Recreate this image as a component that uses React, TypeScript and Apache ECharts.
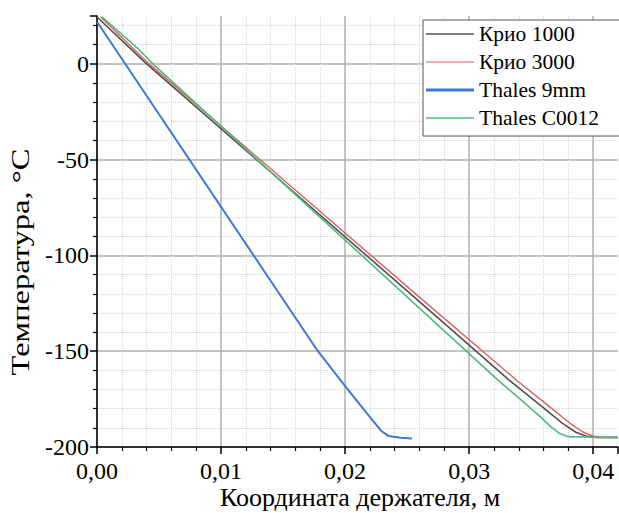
import React, { useEffect, useRef } from 'react';
import * as echarts from 'echarts';

const seriesNames = ['Крио 1000', 'Крио 3000', 'Thales 9mm', 'Thales C0012'];

const krio1000: [number, number][] = [
  [0.0, 24.5], [0.004, 0], [0.025, -118.5], [0.0332, -165], [0.0356, -177.5],
  [0.0375, -187.5], [0.0386, -192.3], [0.0394, -194.3], [0.0402, -195], [0.042, -195],
];
const krio3000: [number, number][] = [
  [0.0003, 24.5], [0.0042, 0], [0.0254, -118.5], [0.0338, -165], [0.0362, -177.5],
  [0.0381, -187.5], [0.0392, -192.3], [0.0400, -194.3], [0.0408, -195], [0.042, -195],
];
const thales9mm: [number, number][] = [
  [0.0, 22], [0.0177, -149], [0.0201, -169], [0.0222, -186], [0.0229, -191.5],
  [0.0235, -194.3], [0.0245, -195.2], [0.0254, -195.5],
];
const thalesC0012: [number, number][] = [
  [0.0004, 24.5], [0.0033, 8], [0.0045, 0], [0.0323, -165], [0.0343, -176],
  [0.0357, -184], [0.0366, -189.5], [0.0373, -193], [0.0380, -194.6], [0.042, -195.2],
];

const seriesData = [krio1000, krio3000, thales9mm, thalesC0012];
const seriesColors = ['#505050', '#e35d5d', '#3d78d6', '#4cbb7c'];
const seriesWidths = [1.6, 1.4, 2, 1.6];
const legendWidths = [1.5, 1.2, 3, 1.5];

const xAxisTitle = 'Координата держателя, м';
const yAxisTitle = 'Температура, °C';

const FONT = 'Liberation Serif';

export default function App() {
  const ref = useRef<HTMLDivElement>(null);
  useEffect(() => {
    if (!ref.current) return;
    const chart = echarts.init(ref.current, null, { renderer: 'svg' });
    const axisCommon = {
      axisLine: { show: true, onZero: false, lineStyle: { color: '#000', width: 1.5 } },
      axisTick: { show: true, length: 7, lineStyle: { color: '#000', width: 1.5 } },
      minorTick: { show: true, splitNumber: 5, length: 4, lineStyle: { color: '#000', width: 1.2 } },
      splitLine: { show: true, showMaxLine: false, lineStyle: { color: '#b0b0b0', width: 1.5 } },
      minorSplitLine: { show: true, lineStyle: { color: '#d6d6d6', type: 'dotted', width: 1 } },
    };
    chart.setOption({
      animation: false,
      backgroundColor: '#fff',
      grid: { left: 97, right: 1, top: 16, bottom: 66, containLabel: false },
      xAxis: {
        type: 'value', min: 0, max: 0.042, interval: 0.01,
        ...axisCommon,
        axisLabel: {
          showMaxLabel: false, margin: 12, color: '#000', fontSize: 24, fontFamily: FONT,
          formatter: (v: number) => v.toFixed(2).replace('.', ','),
        },
      },
      yAxis: {
        type: 'value', min: -200, max: 25, interval: 50,
        ...axisCommon,
        axisLabel: {
          showMaxLabel: false, margin: 8, color: '#000', fontSize: 24, fontFamily: FONT,
          formatter: (v: number) => String(v),
        },
      },
      legend: {
        orient: 'vertical', left: 423, top: 20,
        itemWidth: 48, itemHeight: 14, itemGap: 6,
        padding: [3, 40, 7, 3],
        borderColor: '#555', borderWidth: 1, backgroundColor: '#fff',
        textStyle: { fontFamily: FONT, fontSize: 21.5, color: '#000', lineHeight: 21 },
        data: seriesNames.map((name, i) => ({
          name,
          icon: `path://M0,0H48V${legendWidths[i]}H0Z`,
          itemStyle: { color: seriesColors[i] },
        })),
      },
      graphic: [
        {
          type: 'text', x: 360, y: 497,
          style: { text: xAxisTitle, fontFamily: FONT, fontSize: 26, fill: '#000', align: 'center', verticalAlign: 'middle' },
        },
        {
          type: 'text', x: 20, y: 262, rotation: Math.PI / 2, scaleX: 1.25,
          style: { text: yAxisTitle, fontFamily: FONT, fontSize: 26, fill: '#000', align: 'center', verticalAlign: 'middle' },
        },
      ],
      series: seriesNames.map((name, i) => ({
        name, type: 'line', data: seriesData[i], symbol: 'none', showSymbol: false,
        lineStyle: { color: seriesColors[i], width: seriesWidths[i] },
        itemStyle: { color: seriesColors[i] },
      })),
    });
    return () => chart.dispose();
  }, []);
  return <div ref={ref} style={{ position: 'absolute', left: 0, top: 0, width: 619, height: 513 }} />;
}
